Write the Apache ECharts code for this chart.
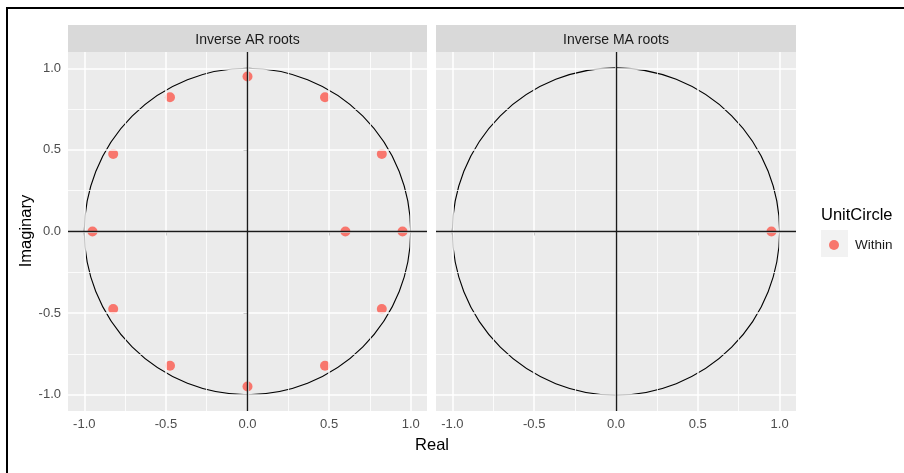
<!DOCTYPE html>
<html><head><meta charset="utf-8">
<script src="https://cdn.jsdelivr.net/npm/echarts@6/dist/echarts.min.js"></script>
<style>html,body{margin:0;padding:0;background:#fff}#c{width:904px;height:473px}</style>
</head><body><div id="c"></div>
<script>
// ---- data ----
const panelTitles = ['Inverse AR roots', 'Inverse MA roots'];
const arReal = [0.95, 0.823, 0.475, 0.00, -0.475, -0.823, -0.95, -0.823, -0.475, 0.00, 0.475, 0.823, 0.60];
const arImag = [0.00, 0.475, 0.823, 0.95, 0.823, 0.475, 0.00, -0.475, -0.823, -0.95, -0.823, -0.475, 0.00];
const maReal = [0.95];
const maImag = [0.00];
const unitCircle = [0, 0, 1]; // centre x, centre y, radius
const axisMin = -1.1, axisMax = 1.1;
const majorBreaks = [-1.0, -0.5, 0.0, 0.5, 1.0];
const minorBreaks = [-0.75, -0.25, 0.25, 0.75];
const legendTitle = 'UnitCircle';
const legendLabel = 'Within';
const xTitle = 'Real', yTitle = 'Imaginary';

// ---- layout ----
const FONT = '"Liberation Sans", Arial, sans-serif';
const panels = [{left: 68, top: 52, width: 359, height: 359}, {left: 436, top: 52, width: 360, height: 359}];
const stripH = 27;
const POINT = '#F8766D';

const chart = echarts.init(document.getElementById('c'), null, {renderer: 'canvas'});

const grids = panels.map(p => ({left: p.left, top: p.top, width: p.width, height: p.height, show: true, backgroundColor: '#EBEBEB', borderWidth: 0, containLabel: false}));

const xAxes = panels.map((p, i) => ({
  type: 'value', gridIndex: i, min: axisMin, max: axisMax,
  axisLine: {show: false},
  axisTick: {show: true, customValues: majorBreaks, length: 4, lineStyle: {color: '#333333', width: 1}},
  axisLabel: {show: true, customValues: majorBreaks, formatter: v => v.toFixed(1), color: '#4D4D4D', fontSize: 13, fontFamily: FONT, margin: 7},
  splitLine: {show: false}
}));
const yAxes = panels.map((p, i) => ({
  type: 'value', gridIndex: i, min: axisMin, max: axisMax,
  axisLine: {show: false},
  axisTick: {show: i === 0, customValues: majorBreaks, length: 4, lineStyle: {color: '#333333', width: 1}},
  axisLabel: {show: i === 0, customValues: majorBreaks, formatter: v => v.toFixed(1), color: '#4D4D4D', fontSize: 13, fontFamily: FONT, margin: 7},
  splitLine: {show: false}
}));

const series = [];
panels.forEach((p, i) => {
  const gridLines = [];
  minorBreaks.forEach(v => {
    gridLines.push({xAxis: v, lineStyle: {color: '#FFFFFF', width: 0.8, type: 'solid'}});
    gridLines.push({yAxis: v, lineStyle: {color: '#FFFFFF', width: 0.8, type: 'solid'}});
  });
  majorBreaks.forEach(v => {
    gridLines.push({xAxis: v, lineStyle: {color: '#FFFFFF', width: 1.5, type: 'solid'}});
    gridLines.push({yAxis: v, lineStyle: {color: '#FFFFFF', width: 1.5, type: 'solid'}});
  });
  series.push({
    type: 'line', xAxisIndex: i, yAxisIndex: i, data: [], silent: true, z: 1,
    markLine: {silent: true, symbol: ['none', 'none'], label: {show: false}, animation: false, data: gridLines}
  });
  series.push({
    type: 'line', xAxisIndex: i, yAxisIndex: i, data: [], silent: true, z: 2,
    markLine: {silent: true, symbol: ['none', 'none'], label: {show: false}, animation: false,
      lineStyle: {color: '#1A1A1A', width: 1.4, type: 'solid'},
      data: [{xAxis: 0}, {yAxis: 0}]}
  });
  series.push({
    type: 'custom', xAxisIndex: i, yAxisIndex: i, silent: true, z: 3, data: [unitCircle],
    renderItem: (params, api) => {
      const c = api.coord([api.value(0), api.value(1)]);
      const r = api.size([api.value(2), 0])[0];
      return {type: 'circle', shape: {cx: c[0], cy: c[1], r: r}, style: {fill: 'none', stroke: '#000000', lineWidth: 1.1}};
    }
  });
  const re = i === 0 ? arReal : maReal;
  const im = i === 0 ? arImag : maImag;
  series.push({
    type: 'scatter', name: legendLabel, xAxisIndex: i, yAxisIndex: i, z: 4,
    symbol: 'circle', symbolSize: 10, itemStyle: {color: POINT, opacity: 1},
    data: re.map((x, k) => [x, im[k]])
  });
});

const graphics = [];
panels.forEach((p, i) => {
  graphics.push({type: 'rect', shape: {x: p.left, y: p.top - stripH, width: p.width, height: stripH}, style: {fill: '#D9D9D9'}, z: 0});
  graphics.push({type: 'text', x: p.left + p.width / 2, y: p.top - stripH / 2 + 1.5, style: {text: panelTitles[i], font: '14px ' + FONT, fill: '#1A1A1A', align: 'center', verticalAlign: 'middle'}, z: 1});
});
graphics.push({type: 'text', x: (panels[0].left + panels[1].left + panels[1].width) / 2, y: 445.5, style: {text: xTitle, font: '16.5px ' + FONT, fill: '#000000', align: 'center', verticalAlign: 'middle'}});
graphics.push({type: 'text', x: 26, y: 231, rotation: Math.PI / 2, style: {text: yTitle, font: '16.5px ' + FONT, fill: '#000000', align: 'center', verticalAlign: 'middle'}});
graphics.push({type: 'text', x: 821, y: 215, style: {text: legendTitle, font: '16.5px ' + FONT, fill: '#000000', align: 'left', verticalAlign: 'middle'}});
graphics.push({type: 'rect', shape: {x: 821, y: 230, width: 27, height: 27}, style: {fill: '#F2F2F2'}, z: 0});
graphics.push({type: 'rect', shape: {x: 7, y: 8, width: 1000, height: 1000}, style: {fill: 'none', stroke: '#000000', lineWidth: 2}, z: 10});

chart.setOption({
  animation: false,
  backgroundColor: '#FFFFFF',
  grid: grids,
  xAxis: xAxes,
  yAxis: yAxes,
  legend: {
    show: true, data: [legendLabel], left: 829, top: 238, padding: 0,
    icon: 'circle', itemWidth: 10, itemHeight: 10, z: 5,
    textStyle: {fontSize: 13.5, fontFamily: FONT, color: '#1A1A1A', padding: [0, 0, 0, 11]}
  },
  graphic: graphics,
  series: series
});
</script>
</body></html>
